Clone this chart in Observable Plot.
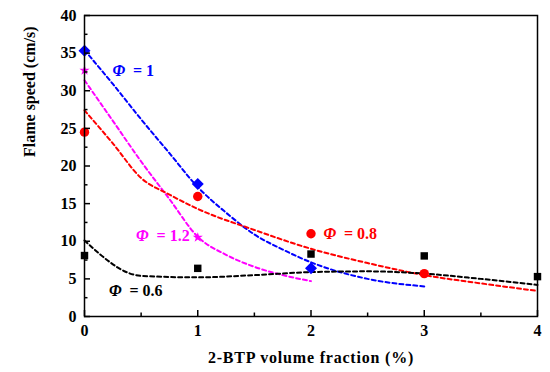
<!DOCTYPE html>
<html><head><meta charset="utf-8">
<script src="https://cdn.jsdelivr.net/npm/d3@7"></script>
<script src="https://cdn.jsdelivr.net/npm/@observablehq/plot@0.6"></script>
<style>body{margin:0;background:#fff}</style>
</head><body><div id="chart"></div>
<script>
// measured points
const xMeasured06 = [0, 1, 2, 3, 4];
const speed06 = [8.1, 6.4, 8.3, 8.05, 5.3];
const xMeasured08 = [0, 1, 2, 3];
const speed08 = [24.5, 15.95, 11.0, 5.7];
const xMeasured10 = [0, 1, 2];
const speed10 = [35.3, 17.6, 6.4];
const xMeasured12 = [0, 1];
const speed12 = [32.7, 10.5];

// fitted (dashed) curves
const xFit06 = [0, 0.5, 1, 1.5, 2, 2.5, 3, 3.5, 4];
const fit06 = [10.1, 5.4, 5.2, 5.5, 5.9, 6.0, 5.7, 5.0, 4.2];
const xFit08 = [0, 0.25, 0.5, 0.75, 1, 1.5, 2, 2.5, 3, 3.5, 4];
const fit08 = [27.4, 23.0, 18.4, 16.2, 14.3, 11.5, 9.0, 7.1, 5.5, 4.4, 3.4];
const xFit10 = [0, 0.25, 0.5, 0.75, 1, 1.25, 1.5, 1.75, 2, 2.5, 3];
const fit10 = [35.4, 30.9, 26.2, 21.7, 17.2, 13.8, 10.9, 8.9, 7.2, 5.0, 4.0];
const xFit12 = [0, 0.25, 0.5, 0.75, 1, 1.25, 1.5, 1.75, 2];
const fit12 = [31.4, 26.0, 20.6, 15.6, 10.6, 8.2, 6.6, 5.5, 4.7];

// labels
const labelRest = ["= 1", "= 1.2", "= 0.8", "= 0.6"];
const labelX = [0.247, 0.455, 2.11, 0.216];
const labelY = [32.7, 10.76, 11.0, 3.46];

const seriesColors = ["#0000ff", "#ff00ff", "#ff0000", "#000000"];
const seriesSymbols = ["diamond2", "star", "circle", "square"];
const seriesR = [5.4, 3.2, 4.7, 4.2];

// ticks
const xMajor = [0, 1, 2, 3, 4];
const xMinor = [0.5, 1.5, 2.5, 3.5];
const yMajor = [0, 5, 10, 15, 20, 25, 30, 35, 40];
const yMinor = [2.5, 7.5, 12.5, 17.5, 22.5, 27.5, 32.5, 37.5];

const xTitle = "2-BTP volume fraction (%)";
const yTitle = "Flame speed (cm/s)";

const measured = [[xMeasured10, speed10], [xMeasured12, speed12], [xMeasured08, speed08], [xMeasured06, speed06]];
const fits = [[xFit10, fit10], [xFit12, fit12], [xFit08, fit08], [xFit06, fit06]];

const font = "Liberation Serif, Times New Roman, serif";
const marks = [];

fits.forEach(([xs, ys], s) => {
  marks.push(Plot.line(xs.map((x, i) => ({x, y: ys[i]})), {
    x: "x", y: "y", stroke: seriesColors[s], strokeWidth: 2,
    strokeDasharray: "4,3", curve: "monotone-x"
  }));
});
measured.forEach(([xs, ys], s) => {
  marks.push(Plot.dot(xs.map((x, i) => ({x, y: ys[i]})), {
    x: "x", y: "y", symbol: () => seriesSymbols[s], r: seriesR[s],
    fill: seriesColors[s], stroke: "none"
  }));
});

const labels = labelRest.map((t, i) => ({t, x: labelX[i], y: labelY[i], c: seriesColors[i]}));
marks.push(Plot.text(labels, {x: "x", y: "y", text: () => "Φ", fill: "c", textAnchor: "start",
  fontSize: 16, fontWeight: "bold", fontStyle: "italic", fontFamily: font}));
marks.push(Plot.text(labels, {x: "x", y: "y", text: "t", fill: "c", textAnchor: "start", dx: 20.5,
  fontSize: 16, fontWeight: "bold", fontFamily: font}));

const fmt = d => String(d);
marks.push(Plot.frame({stroke: "black", strokeWidth: 1.5}));
marks.push(Plot.axisX({ticks: xMajor, tickSize: -6, strokeWidth: 1.5, tickFormat: () => "", label: null}));
marks.push(Plot.axisX({ticks: xMinor, tickSize: -3.5, strokeWidth: 1.5, tickFormat: () => "", label: null}));
marks.push(Plot.axisX({ticks: xMajor, tickSize: 0, tickPadding: 8, tickFormat: fmt, fontSize: 16, fontWeight: "bold", fontFamily: font, fill: "black", label: null}));
marks.push(Plot.axisY({ticks: yMajor, tickSize: -6, strokeWidth: 1.5, tickFormat: () => "", label: null}));
marks.push(Plot.axisY({ticks: yMinor, tickSize: -3.5, strokeWidth: 1.5, tickFormat: () => "", label: null}));
marks.push(Plot.axisY({ticks: yMajor, tickSize: 0, tickPadding: 8, tickFormat: fmt, fontSize: 16, fontWeight: "bold", fontFamily: font, fill: "black", label: null}));

marks.push(Plot.text([yTitle], {frameAnchor: "left", dx: -55, dy: -9, rotate: -90,
  fontSize: 16, fontWeight: "bold", fontFamily: font, fill: "black"}));
marks.push(Plot.text([xTitle], {frameAnchor: "bottom", dy: 46,
  fontSize: 16, fontWeight: "bold", fontFamily: font, fill: "black"}));

const chart = Plot.plot({
  width: 550, height: 372,
  marginLeft: 84, marginRight: 13, marginTop: 15, marginBottom: 56,
  style: {fontFamily: font, background: "white", overflow: "visible"},
  x: {domain: [0, 4]},
  y: {domain: [0, 40]},
  marks
});
document.getElementById("chart").appendChild(chart);
chart.querySelectorAll("text").forEach(t => {
  if (t.textContent === xTitle) t.setAttribute("letter-spacing", "0.8");
});
</script>
</body></html>
